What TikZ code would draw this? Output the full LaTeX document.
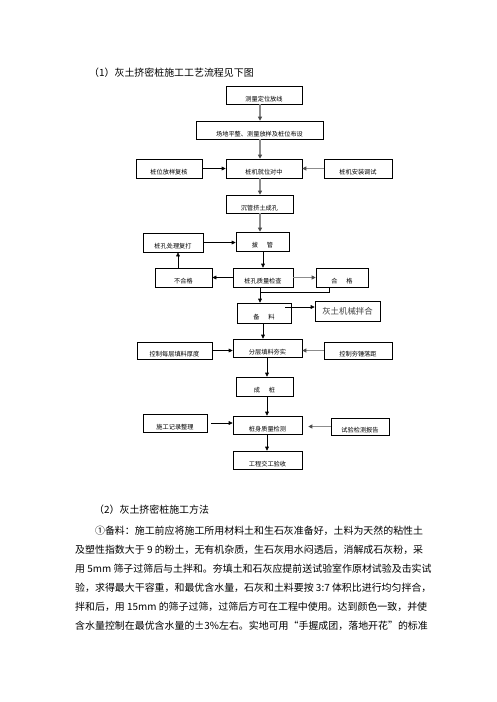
\documentclass[tikz,border=0pt]{standalone}
\usepackage{fontspec}
\setmainfont{Noto Sans CJK SC}
\usetikzlibrary{arrows.meta}
\begin{document}
\begin{tikzpicture}[x=1pt,y=-1pt,
  box/.style={draw, line width=0.6pt, inner sep=0pt, text height=12.5pt, text depth=0pt,
    font=\fontsize{6.2}{7}\selectfont},
  barr/.style={line width=0.6pt, -{Triangle[length=4pt,width=3.8pt]}},
  garr/.style={line width=1.4pt, draw=black!45, -{Triangle[length=4pt,width=4pt,color=black!70]}},
  bline/.style={line width=0.6pt},
  body/.style={anchor=west, inner sep=0pt, font=\fontsize{9.94}{12}\selectfont}]
\useasboundingbox (0,0) rectangle (496,702);
\fill[white] (0,0) rectangle (496,702);

\node[body] (t1) at (89,73) {（1）灰土挤密桩施工工艺流程见下图};

% boxes
\node[box, minimum width=76pt, minimum height=18pt] (A) at (264,95) {测量定位放线};
\node[box, minimum width=127pt, minimum height=18pt] (B) at (259.5,130) {场地平整、测量放样及桩位布设};
\node[box, minimum width=66pt, minimum height=19pt] (Cl) at (169,168.5) {桩位放样复核};
\node[box, minimum width=76pt, minimum height=19pt] (C) at (264,168.5) {桩机就位对中};
\node[box, minimum width=68pt, minimum height=19pt] (Cr) at (358,168.5) {桩机安装调试};
\node[box, minimum width=67pt, minimum height=18pt] (D) at (259.5,204) {沉管挤土成孔};
\node[box, minimum width=60pt, minimum height=19pt] (El) at (173,242.5) {桩孔处理复打};
\node[box, minimum width=53pt, minimum height=19pt] (E) at (262.5,241.5) {拔\hspace{9pt}管};
\node[box, minimum width=60pt, minimum height=19pt] (F) at (263,277.5) {桩孔质量检查};
\node[box, minimum width=57pt, minimum height=19pt] (Fl) at (183.5,277.5) {不合格};
\node[box, minimum width=52pt, minimum height=19pt] (Fr) at (342,277.5) {合\hspace{9pt}格};
\node[box, minimum width=54pt, minimum height=20pt] (G) at (264,313) {备\hspace{9pt}料};
\node[draw, line width=0.6pt, inner sep=0pt, minimum width=65pt, minimum height=20pt,
  text=black!75, font=\fontsize{8.4}{10}\selectfont] (Gr) at (347.5,311) {灰土机械拌合};
\node[box, minimum width=69pt, minimum height=18pt] (H) at (267.5,348) {分层填料夯实};
\node[box, minimum width=75pt, minimum height=17pt] (Hl) at (174.5,350.5) {控制每层填料厚度};
\node[box, minimum width=68pt, minimum height=17pt] (Hr) at (358,350.5) {控制夯锤落距};
\node[box, minimum width=57pt, minimum height=19pt] (I) at (264.5,386.5) {成\hspace{9pt}桩};
\node[box, minimum width=69pt, minimum height=18pt] (J) at (267.5,425) {桩身质量检测};
\node[box, minimum width=64pt, minimum height=18pt] (Jl) at (175,423) {施工记录整理};
\node[box, minimum width=58pt, minimum height=17pt] (Jr) at (360,426.5) {试验检测报告};
\node[box, minimum width=69pt, minimum height=18pt] (K) at (267.5,460) {工程交工验收};

% guide coordinates
\coordinate (v1) at (260,0);
\coordinate (v2) at (178,0);
\coordinate (v3) at (263,0);
\coordinate (v4) at (329,0);
\coordinate (v5) at (267,0);
\coordinate (j) at (260,292);

% connectors
\draw[garr] (A.south -| v1) -- (B.north -| v1);
\draw[garr] (B.south -| v1) -- (C.north -| v1);
\draw[barr] (Cl.east) -- (C.west);
\draw[garr] (Cr.west) -- (C.east);
\draw[garr] (C.south -| v1) -- (D.north -| v1);
\draw[garr] (D.south -| v1) -- (E.north -| v1);
\draw[barr] (El.east) -- (E.west |- El.east);
\draw[barr] (E.south -| v3) -- (F.north -| v3);
\draw[barr] (F.west) -- (Fl.east);
\draw[barr] (Fl.north -| v2) -- (El.south -| v2);
\draw[garr] (F.east) -- (Fr.west);
\draw[bline] (Fr.south -| v4) |- (j);
\draw[barr] (F.south -| v1) -- (G.north -| v1);
\coordinate (gs) at ([xshift=-6pt,yshift=6pt]G.east);
\draw[barr] (gs) -- (Gr.west |- gs);
\draw[barr] (G.south -| v3) -- (H.north -| v3);
\draw[barr] (Hl.east) -- (H.west |- Hl.east);
\draw[garr] (Hr.west) -- (H.east |- Hr.west);
\draw[barr] (H.south -| v5) -- (I.north -| v5);
\draw[barr] (I.south -| v5) -- (J.north -| v5);
\draw[barr] ([xshift=4pt]Jl.east) -- (J.west |- Jl.east);
\coordinate (je) at ([xshift=6pt]J.east);
\draw[garr] (Jr.west) -- (je |- Jr.west);
\draw[barr] (J.south -| v5) -- (K.north -| v5);

% body text
\node[body] (p0) at (94,510) {（2）灰土挤密桩施工方法};
\node[body] (p1) at (75,531) {\hspace*{19.9pt}①备料：施工前应将施工所用材料土和生石灰准备好，土料为天然的粘性土};
\node[body] (p2) at (75,550) {及塑性指数大于 9 的粉土，无有机杂质，生石灰用水闷透后，消解成石灰粉，采};
\node[body] (p3) at (75,569) {用 5mm 筛子过筛后与土拌和。夯填土和石灰应提前送试验室作原材试验及击实试};
\node[body] (p4) at (75,588) {验，求得最大干容重，和最优含水量，石灰和土料要按 3:7 体积比进行均匀拌合，};
\node[body] (p5) at (75,607) {拌和后，用 15mm 的筛子过筛，过筛后方可在工程中使用。达到颜色一致，并使};
\node[body] (p6) at (75,626) {含水量控制在最优含水量的±3\%左右。实地可用“手握成团，落地开花”的标准};
\end{tikzpicture}
\end{document}
